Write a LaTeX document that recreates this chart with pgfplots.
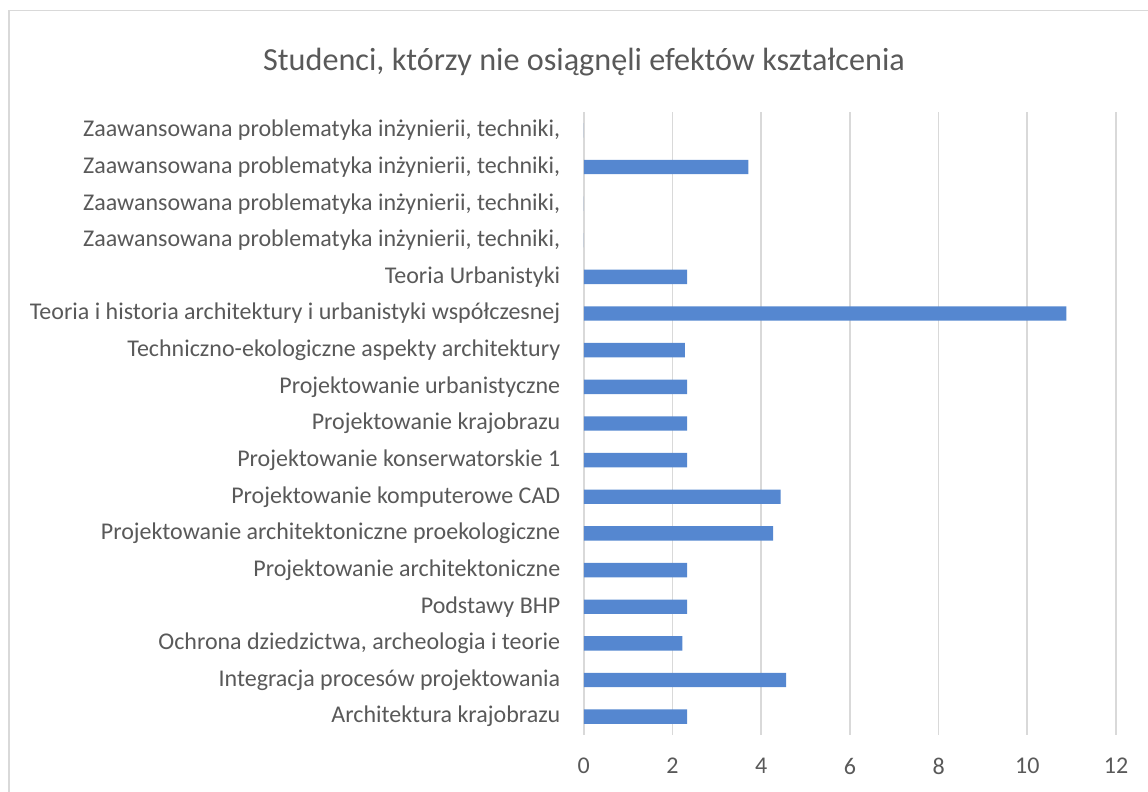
\documentclass[border=0pt]{standalone}
\usepackage{pgfplots}
\pgfplotsset{compat=1.18}
\usepackage{fontspec}
\setmainfont{Carlito}
\definecolor{txt}{HTML}{595959}
\definecolor{barc}{HTML}{5587D0}
\definecolor{gridc}{HTML}{D9D9D9}
\begin{document}
\begin{tikzpicture}
\useasboundingbox (0,0) rectangle (574pt,396pt);
\draw[gridc, line width=0.8pt] (4.5pt,-10pt) -- (4.5pt,390.75pt) -- (590pt,390.75pt);
\node[text=txt, font=\fontsize{16.1}{19}\selectfont] at (292pt,365pt) {Studenci, którzy nie osiągnęli efektów kształcenia};
\begin{axis}[
  at={(291.9pt,28.5pt)}, anchor=south west,
  width=266.1pt, height=311.5pt, scale only axis,
  xbar, bar width=7.2pt,
  xmin=0, xmax=12, ymin=-0.5, ymax=16.5,
  xtick={0,2,...,12},
  ytick={0,...,16},
  yticklabels={Architektura krajobrazu, Integracja procesów projektowania, {Ochrona dziedzictwa, archeologia i teorie}, Podstawy BHP, Projektowanie architektoniczne, Projektowanie architektoniczne proekologiczne, Projektowanie komputerowe CAD, Projektowanie konserwatorskie 1, Projektowanie krajobrazu, Projektowanie urbanistyczne, Techniczno-ekologiczne aspekty architektury, Teoria i historia architektury i urbanistyki współczesnej, Teoria Urbanistyki, {Zaawansowana problematyka inżynierii, techniki,}, {Zaawansowana problematyka inżynierii, techniki,}, {Zaawansowana problematyka inżynierii, techniki,}, {Zaawansowana problematyka inżynierii, techniki,}},
  axis line style={draw=none},
  major tick style={draw=none},
  xmajorgrids, grid style={gridc, line width=0.8pt},
  ticklabel style={text=txt, font=\fontsize{12}{14}\selectfont},
  /pgf/number format/assume math mode=true,
  xticklabel style={yshift=-8pt},
  yticklabel style={xshift=-4pt},
  clip=false,
]
\addplot[fill=barc, draw=none] coordinates {
(2.33,0) (4.56,1) (2.22,2) (2.33,3) (2.33,4) (4.27,5) (4.44,6) (2.33,7) (2.33,8) (2.33,9) (2.28,10) (10.88,11) (2.33,12) (0,13) (0,14) (3.71,15) (0,16)
};
\end{axis}
\end{tikzpicture}
\end{document}
